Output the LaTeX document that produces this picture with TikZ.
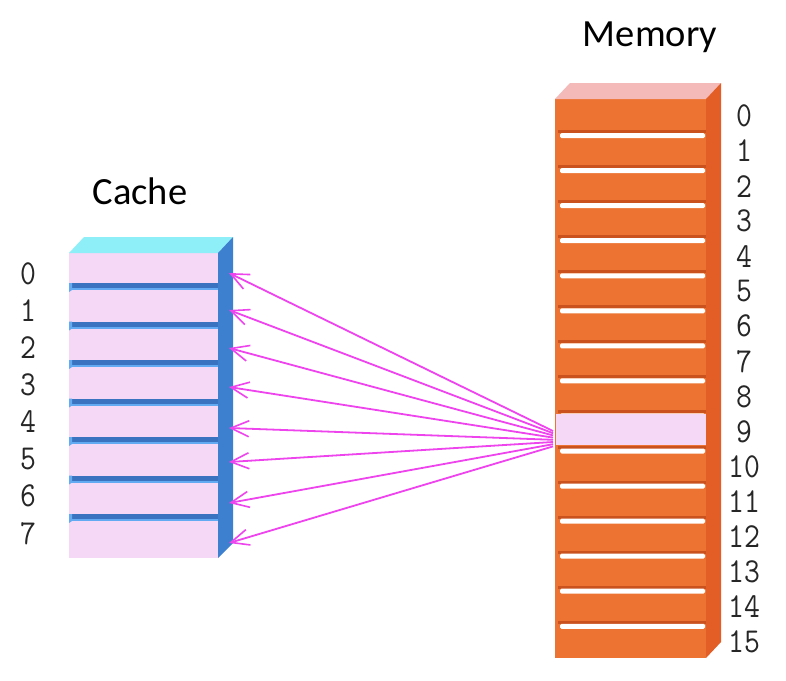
\documentclass[tikz,border=0pt]{standalone}
\usepackage{fontspec}
\newfontfamily\titlefont{Carlito}
\newfontfamily\idxfont{Latin Modern Mono}[FakeStretch=0.88]
\usetikzlibrary{arrows.meta}
\definecolor{cpink}{HTML}{F5D8F6}
\definecolor{ccyan}{HTML}{8EEFF9}
\definecolor{cblue}{HTML}{3D80D0}
\definecolor{cbluedk}{HTML}{3A74C0}
\definecolor{cbluelt}{HTML}{62AAF2}
\definecolor{morange}{HTML}{EC7331}
\definecolor{mside}{HTML}{E35E27}
\definecolor{mtop}{HTML}{F4B9B9}
\definecolor{msep}{HTML}{C9521F}
\definecolor{amag}{HTML}{EE44EE}
\tikzset{
  title/.style={font=\titlefont\fontsize{38.5}{40}\selectfont, inner sep=0pt},
  idx/.style={font=\idxfont\fontsize{35}{37}\selectfont, inner sep=0pt, text=black!85},
  link/.style={draw=amag, line width=1.8pt, -{Straight Barb[length=18pt,width=16pt,line width=1.6pt]}},
}
\begin{document}
\begin{tikzpicture}[x=1pt,y=-1pt]
\useasboundingbox (0,0) rectangle (786,680);
\fill[white] (0,0) rectangle (786,680);

% ---------- Cache ----------
\fill[cpink] (69,253) rectangle (218,558);
\fill[ccyan] (69,253) -- (84,237) -- (233,237) -- (218,253) -- cycle;
\fill[cblue] (218,253) -- (233,237) -- (233,543) -- (218,558) -- cycle;
\foreach \k in {0,...,6}{
  \pgfmathsetmacro{\yy}{283+38.5*\k}
  \fill[cbluedk] (69,\yy) rectangle (218,\yy+5);
  \fill[cbluelt] (69,\yy+5) rectangle (218,\yy+7);
  \fill[cbluelt] (69,\yy) -- (72,\yy) -- (72,\yy+7) -- (69,\yy+9) -- cycle;
}
\node[title] (cachetitle) at (140,191) {Cache};
\foreach \k/\yy in {0/274,1/311,2/348,3/385,4/422,5/459,6/496,7/534}{
  \node[idx] (cl\k) at (28,\yy) {\k};
}

% ---------- Memory ----------
\fill[morange] (555,99) rectangle (706,658);
\fill[mtop] (555,99) -- (570,83) -- (721,83) -- (706,99) -- cycle;
\fill[mside] (706,99) -- (721,83) -- (721,642) -- (706,658) -- cycle;
\foreach \k in {1,...,15}{
  \pgfmathsetmacro{\yy}{99+35.05*\k}
  \fill[msep] (558,\yy-4) rectangle (706,\yy-1);
  \fill[white, rounded corners=1.5pt] (560,\yy-1) rectangle (705,\yy+4);
}
\node[fill=cpink, minimum width=150pt, minimum height=31pt, inner sep=0pt, anchor=north west] (m9) at (556,414) {};
\node[title] (memtitle) at (650,37) {Memory};
\foreach \k in {0,...,15}{
  \pgfmathsetmacro{\yy}{116+35.05*\k}
  \node[idx] (ml\k) at (744,\yy) {\k};
}

% ---------- Mapping arrows ----------
\foreach \k/\yy in {0/273,1/310,2/348,3/387,4/428,5/462,6/503,7/543}{
  \coordinate (t\k) at (229,\yy);
  \pgfmathsetmacro{\sy}{431+2.2*\k}
  \coordinate (s\k) at (553,\sy);
  \draw[link] (s\k) -- (t\k);
}
\end{tikzpicture}
\end{document}
